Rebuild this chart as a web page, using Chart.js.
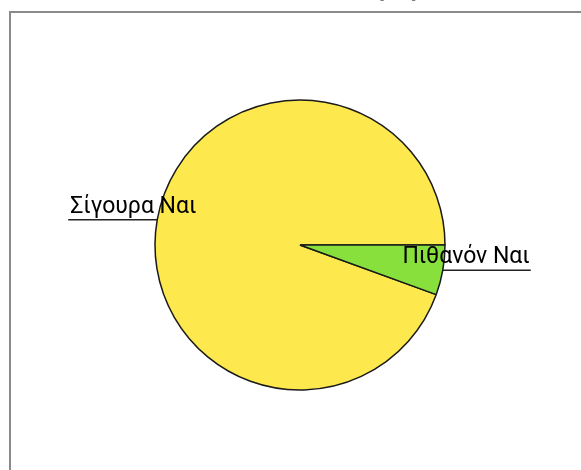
<!DOCTYPE html>
<html lang="el">
<head>
<meta charset="UTF-8">
<title>Πρόθεση ψήφου</title>
<script src="https://cdn.jsdelivr.net/npm/chart.js@4.4.0/dist/chart.umd.min.js"></script>
<style>
    * { margin: 0; padding: 0; box-sizing: border-box; }
    body { background: #fff; width: 581px; height: 470px; overflow: hidden; }
    #wrap { position: relative; width: 581px; height: 470px; }
</style>
</head>
<body>
<div id="wrap"><canvas id="pie" width="581" height="470"></canvas></div>
<script>
const chartTitle = 'Πόσο σίγουρα θα πάτε να ψηφίσετε;';
const categories = ['Σίγουρα Ναι', 'Πιθανόν Ναι'];
const values = [17, 1];
const sliceColors = ['#fde84e', '#88e03c'];

// frame around the plot area, title mostly cut off above it
const framePlugin = {
    id: 'frame',
    beforeDraw(chart) {
        const ctx = chart.ctx;
        ctx.save();
        ctx.strokeStyle = '#8a8a8a';
        ctx.lineWidth = 2;
        ctx.strokeRect(10, 12, 700, 600);
        ctx.fillStyle = '#000';
        ctx.font = 'bold 24px Roboto';
        ctx.textAlign = 'center';
        ctx.textBaseline = 'alphabetic';
        ctx.fillText(chartTitle, 290, -5);
        ctx.restore();
    }
};

// labels with a horizontal leader line from the slice edge
const leaderPlugin = {
    id: 'leaders',
    afterDatasetsDraw(chart) {
        const ctx = chart.ctx;
        const arcs = chart.getDatasetMeta(0).data;
        ctx.save();
        ctx.font = '23px Roboto';
        ctx.fillStyle = '#000';
        ctx.strokeStyle = '#222';
        ctx.lineWidth = 1.5;
        arcs.forEach((arc, i) => {
            const mid = (arc.startAngle + arc.endAngle) / 2;
            const x0 = arc.x + Math.cos(mid) * arc.outerRadius;
            const y0 = arc.y + Math.sin(mid) * arc.outerRadius;
            const right = Math.cos(mid) >= 0;
            const x1 = right ? x0 + 88 : x0 - 89;
            ctx.beginPath();
            ctx.moveTo(x0, y0);
            ctx.lineTo(x1, y0);
            ctx.stroke();
            ctx.textAlign = right ? 'right' : 'left';
            ctx.textBaseline = 'alphabetic';
            ctx.fillText(categories[i], right ? x1 - 1 : x1 + 2, y0 - 7);
        });
        ctx.restore();
    }
};

new Chart(document.getElementById('pie'), {
    type: 'pie',
    data: {
        labels: categories,
        datasets: [{
            data: values,
            backgroundColor: sliceColors,
            borderColor: '#1a1a1a',
            borderWidth: 1.5
        }]
    },
    options: {
        responsive: false,
        animation: false,
        rotation: 110,
        radius: 145,
        layout: { padding: { left: 30, right: 11, top: 30, bottom: 10 } },
        plugins: {
            legend: { display: false },
            tooltip: { enabled: false }
        }
    },
    plugins: [framePlugin, leaderPlugin]
});
</script>
</body>
</html>
